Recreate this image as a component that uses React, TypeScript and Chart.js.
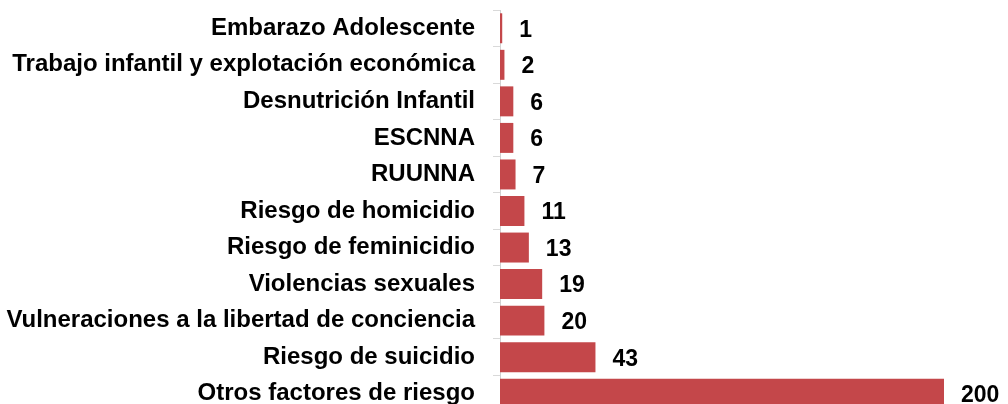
import React, { useEffect, useRef } from "react";
import { Chart, registerables } from "chart.js";

Chart.register(...registerables);

const categories: string[] = [
  "Embarazo Adolescente",
  "Trabajo infantil y explotación económica",
  "Desnutrición Infantil",
  "ESCNNA",
  "RUUNNA",
  "Riesgo de homicidio",
  "Riesgo de feminicidio",
  "Violencias sexuales",
  "Vulneraciones a la libertad de conciencia",
  "Riesgo de suicidio",
  "Otros factores de riesgo",
];

const values: number[] = [1, 2, 6, 6, 7, 11, 13, 19, 20, 43, 200];

const BAR_COLOR = "#C4474A";
const FONT = "'Liberation Sans', Arial, sans-serif";

const valueLabels = {
  id: "valueLabels",
  afterDatasetsDraw(chart: any) {
    const ctx = chart.ctx;
    const meta = chart.getDatasetMeta(0);
    ctx.save();
    ctx.font = `bold 23px ${FONT}`;
    ctx.fillStyle = "#000000";
    ctx.textAlign = "left";
    ctx.textBaseline = "middle";
    meta.data.forEach((el: any, i: number) => {
      ctx.fillText(String(values[i]), el.x + 17, el.y + 2);
    });
    ctx.restore();
  },
};

export default function App() {
  const ref = useRef<HTMLCanvasElement | null>(null);

  useEffect(() => {
    if (!ref.current) return;
    const chart = new Chart(ref.current, {
      type: "bar",
      data: {
        labels: categories,
        datasets: [
          {
            data: values,
            backgroundColor: BAR_COLOR,
            borderWidth: 0,
            categoryPercentage: 1,
            barPercentage: 0.82,
          },
        ],
      },
      options: {
        indexAxis: "y",
        animation: false,
        responsive: true,
        maintainAspectRatio: false,
        layout: { padding: { top: 10, right: 64, bottom: 0, left: 0 } },
        plugins: {
          legend: { display: false },
          tooltip: { enabled: false },
        },
        scales: {
          x: {
            display: false,
            min: 0,
            max: 200,
          },
          y: {
            afterFit: (scale: any) => {
              scale.width = 500;
              scale.paddingTop = 0;
              scale.paddingBottom = 0;
            },
            grid: {
              drawOnChartArea: false,
              drawTicks: true,
              tickLength: 7,
              color: "#d9d9d9",
              offset: true,
            },
            border: { display: true, color: "#d0d0d0", width: 1 },
            ticks: {
              color: "#000000",
              padding: 18,
              font: { family: FONT, size: 24, weight: "bold" },
              autoSkip: false,
            },
          },
        },
      },
      plugins: [valueLabels],
    });
    return () => chart.destroy();
  }, []);

  return (
    <div
      style={{
        position: "fixed",
        left: 0,
        top: 0,
        width: 1008,
        height: 404,
        overflow: "hidden",
        background: "#ffffff",
      }}
    >
      <div style={{ position: "relative", width: 1008, height: 412 }}>
        <canvas ref={ref} />
      </div>
    </div>
  );
}
